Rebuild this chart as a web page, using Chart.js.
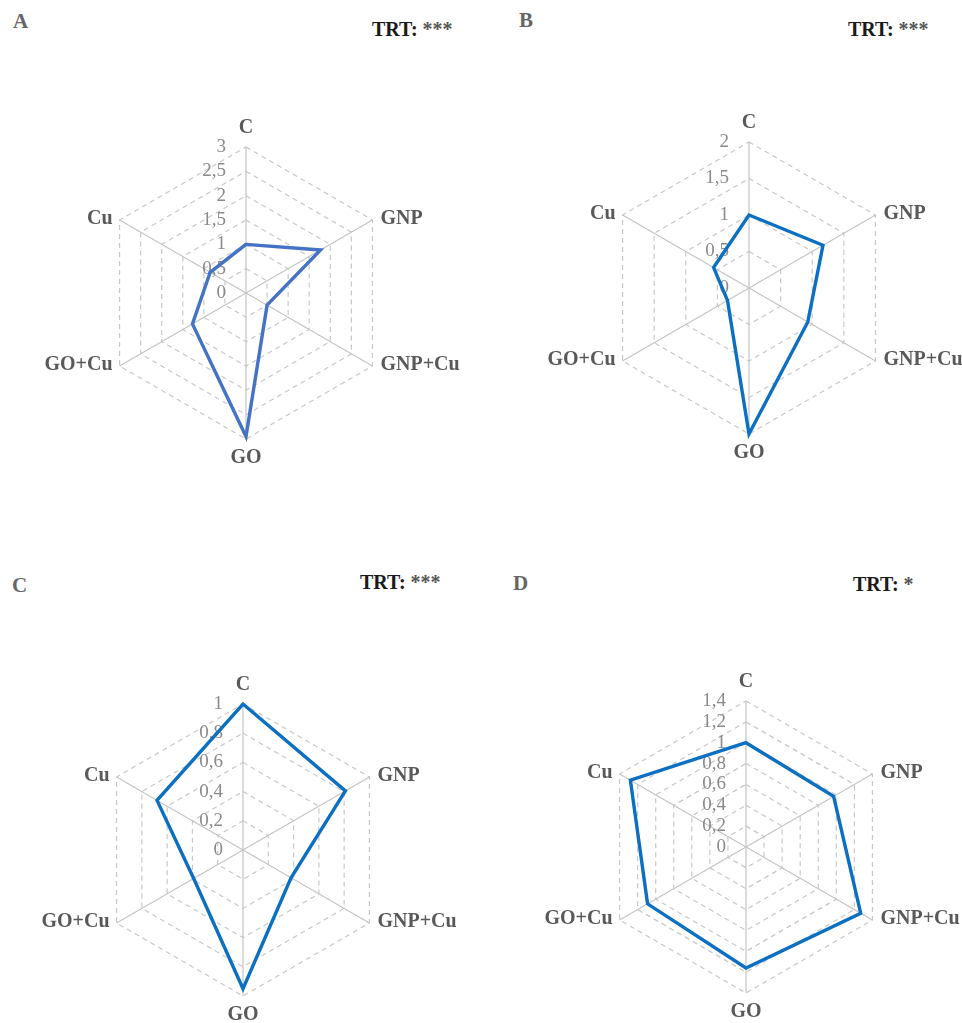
<!DOCTYPE html>
<html><head><meta charset="utf-8">
<script src="https://cdn.jsdelivr.net/npm/chart.js@4/dist/chart.umd.min.js"></script>
<style>
html,body{margin:0;padding:0;background:#fff;width:962px;height:1023px;overflow:hidden;}
canvas{position:absolute;}
.lbl{position:absolute;font-family:'Liberation Serif','Times New Roman',serif;font-weight:bold;font-size:20px;line-height:20px;white-space:nowrap;}
.let{color:#666;font-size:21px;}
.trt{color:#1a1a1a;}
.ast{color:#555;}
</style></head><body>
<div class="lbl let" style="left:13px;top:11px;">A</div>
<div class="lbl trt" style="left:372px;top:19px;">TRT: <span class="ast">***</span></div>
<div class="lbl let" style="left:519px;top:10px;">B</div>
<div class="lbl trt" style="left:848px;top:19px;">TRT: <span class="ast">***</span></div>
<div class="lbl let" style="left:12px;top:575px;">C</div>
<div class="lbl trt" style="left:360px;top:572px;">TRT: <span class="ast">***</span></div>
<div class="lbl let" style="left:513px;top:573px;">D</div>
<div class="lbl trt" style="left:853px;top:574px;">TRT: <span class="ast">*</span></div>
<canvas id="cA" style="left:0px;top:0px;" width="481" height="511"></canvas>
<canvas id="cB" style="left:481px;top:0px;" width="481" height="511"></canvas>
<canvas id="cC" style="left:0px;top:511px;" width="481" height="512"></canvas>
<canvas id="cD" style="left:481px;top:511px;" width="481" height="512"></canvas>
<script>
// Categories (clockwise from top)
const categories = ['C', 'GNP', 'GNP+Cu', 'GO', 'GO+Cu', 'Cu'];

// Series values per panel
const valuesA = [1.0, 1.77, 0.5, 2.95, 1.27, 0.85];
const valuesB = [1.0, 1.17, 0.93, 2.0, 0.34, 0.56];
const valuesC = [1.0, 0.81, 0.38, 0.95, 0.39, 0.68];
const valuesD = [1.0, 0.97, 1.27, 1.16, 1.09, 1.28];

// Tick values and labels per panel
const ticksA = [0, 0.5, 1, 1.5, 2, 2.5, 3];
const tickLabelsA = ['0', '0,5', '1', '1,5', '2', '2,5', '3'];
const ticksB = [0, 0.5, 1, 1.5, 2];
const tickLabelsB = ['0', '0,5', '1', '1,5', '2'];
const ticksC = [0, 0.2, 0.4, 0.6, 0.8, 1];
const tickLabelsC = ['0', '0,2', '0,4', '0,6', '0,8', '1'];
const ticksD = [0, 0.2, 0.4, 0.6, 0.8, 1, 1.2, 1.4];
const tickLabelsD = ['0', '0,2', '0,4', '0,6', '0,8', '1', '1,2', '1,4'];

const SERIF = '"Liberation Serif", "Times New Roman", serif';

function makePlugin(tickVals, tickLabels) {
  return {
    id: 'radarText',
    beforeDatasetsDraw(chart) {
      const s = chart.scales.r, ctx = chart.ctx;
      ctx.save();
      ctx.font = '19px ' + SERIF;
      ctx.fillStyle = '#8a8a8a';
      ctx.textAlign = 'right';
      ctx.textBaseline = 'middle';
      tickVals.forEach((v, i) => {
        const d = s.getDistanceFromCenterForValue(v);
        ctx.fillText(tickLabels[i], s.xCenter - 20, s.yCenter - d);
      });
      ctx.restore();
    },
    afterDraw(chart) {
      const s = chart.scales.r, ctx = chart.ctx;
      ctx.save();
      ctx.font = 'bold 20px ' + SERIF;
      ctx.fillStyle = '#595959';
      ctx.textBaseline = 'middle';
      categories.forEach((c, i) => {
        const p = s.getPointPosition(i, s.drawingArea);
        if (i === 0) {
          ctx.textAlign = 'center';
          ctx.fillText(c, p.x, s.yCenter - s.drawingArea - 19);
        } else if (i === 3) {
          ctx.textAlign = 'center';
          ctx.fillText(c, p.x, s.yCenter + s.drawingArea + 19);
        } else if (i < 3) {
          ctx.textAlign = 'left';
          ctx.fillText(c, p.x + 8, p.y - 1);
        } else {
          ctx.textAlign = 'right';
          ctx.fillText(c, p.x - 7, p.y - 1);
        }
      });
      ctx.restore();
    }
  };
}

function makeChart(id, values, tickVals, tickLabels, maxV, step, color, pad) {
  new Chart(document.getElementById(id), {
    type: 'radar',
    data: {
      labels: categories,
      datasets: [{
        data: values,
        borderColor: color,
        borderWidth: 3.4,
        fill: false,
        pointRadius: 0,
        pointHoverRadius: 0,
        tension: 0,
        borderJoinStyle: 'miter'
      }]
    },
    options: {
      responsive: false,
      animation: false,
      events: [],
      layout: { padding: pad },
      plugins: { legend: { display: false }, tooltip: { enabled: false } },
      scales: {
        r: {
          min: 0,
          max: maxV,
          ticks: { display: false, stepSize: step },
          pointLabels: { display: false },
          grid: { color: '#c8c8c8', lineWidth: 1.2 },
          border: { dash: [5, 4] },
          angleLines: { color: '#c4c4c4', lineWidth: 1.2 }
        }
      }
    },
    plugins: [makePlugin(tickVals, tickLabels)]
  });
}

makeChart('cA', valuesA, ticksA, tickLabelsA, 3, 0.5, '#4472C4', { left: 100, top: 147, right: 89, bottom: 72 });
makeChart('cB', valuesB, ticksB, tickLabelsB, 2, 0.5, '#0B6FC2', { left: 122, top: 142, right: 67, bottom: 77 });
makeChart('cC', valuesC, ticksC, tickLabelsC, 1, 0.2, '#0B6FC2', { left: 97, top: 193, right: 92, bottom: 27 });
makeChart('cD', valuesD, ticksD, tickLabelsD, 1.4, 0.2, '#0B6FC2', { left: 119, top: 190, right: 70, bottom: 30 });
</script>
</body></html>
